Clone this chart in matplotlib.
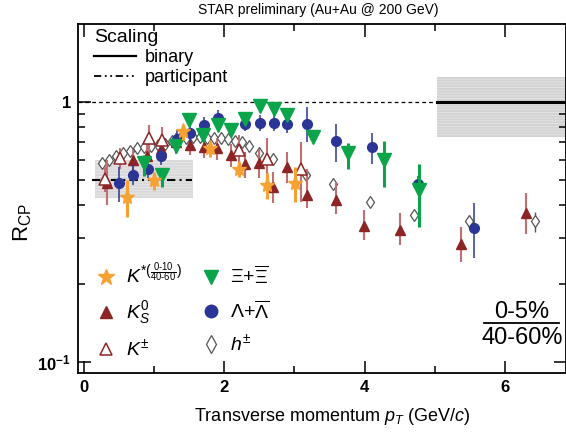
import numpy as np
import matplotlib
matplotlib.use('Agg')
import matplotlib.pyplot as plt
from matplotlib.lines import Line2D
from matplotlib.ticker import FixedLocator, NullFormatter

plt.rcParams['font.family'] = ['Liberation Sans', 'DejaVu Sans']
plt.rcParams['mathtext.fontset'] = 'custom'
plt.rcParams['mathtext.rm'] = 'Liberation Sans'
plt.rcParams['mathtext.it'] = 'Liberation Sans:italic'
plt.rcParams['mathtext.bf'] = 'Liberation Sans:bold'
plt.rcParams['hatch.linewidth'] = 0.6

# ---------------- data ----------------
h_x = [0.25, 0.35, 0.45, 0.55, 0.65, 0.75, 0.85, 0.95, 1.05, 1.15, 1.25, 1.35, 1.45,
       1.55, 1.65, 1.75, 1.85, 1.95, 2.05, 2.15, 2.25, 2.35, 2.50, 2.70, 3.17, 3.55,
       4.07, 4.71, 5.49, 6.43]
h_y = [0.58, 0.598, 0.62, 0.635, 0.65, 0.664, 0.673, 0.677, 0.683, 0.69, 0.71, 0.72,
       0.73, 0.735, 0.735, 0.73, 0.73, 0.725, 0.72, 0.71, 0.70, 0.68, 0.637, 0.606,
       0.526, 0.482, 0.414, 0.368, 0.347, 0.347]
h_err = [0.0, 0.0, 0.0, 0.0, 0.0, 0.0, 0.0, 0.0, 0.0, 0.0, 0.0, 0.0, 0.0, 0.0, 0.0,
         0.0, 0.0, 0.0, 0.0, 0.0, 0.0, 0.0, 0.03, 0.0, 0.0, 0.015, 0.015, 0.015, 0.02, 0.03]

kst_x = [0.61, 1.00, 1.41, 1.80, 2.21, 2.61, 3.01]
kst_y = [0.43, 0.50, 0.77, 0.665, 0.55, 0.48, 0.49]
kst_lo = [0.36, 0.46, 0.714, 0.616, 0.513, 0.422, 0.414]
kst_hi = [0.50, 0.54, 0.815, 0.71, 0.59, 0.534, 0.564]

k0_x = [0.33, 0.70, 0.90, 1.10, 1.31, 1.51, 1.71, 1.90, 2.10, 2.30, 2.50, 2.70, 2.90,
        3.18, 3.59, 3.99, 4.51, 5.38, 6.30]
k0_y = [0.49, 0.60, 0.62, 0.66, 0.70, 0.683, 0.67, 0.665, 0.625, 0.575, 0.58, 0.472,
        0.561, 0.44, 0.42, 0.334, 0.323, 0.285, 0.373]
k0_lo = [0.40, 0.524, 0.55, 0.60, 0.63, 0.625, 0.61, 0.60, 0.56, 0.51, 0.51, 0.41, 0.49,
         0.39, 0.37, 0.295, 0.282, 0.243, 0.311]
k0_hi = [0.60, 0.654, 0.70, 0.73, 0.76, 0.73, 0.74, 0.73, 0.69, 0.64, 0.66, 0.54, 0.64,
         0.55, 0.49, 0.384, 0.373, 0.33, 0.445]

kpm_x = [0.30, 0.51, 0.92, 1.11, 2.21, 2.61, 3.10]
kpm_y = [0.505, 0.61, 0.73, 0.715, 0.655, 0.605, 0.553]
kpm_lo = [0.45, 0.55, 0.60, 0.664, 0.557, 0.50, 0.414]
kpm_hi = [0.56, 0.666, 0.816, 0.804, 0.746, 0.725, 0.704]

lam_x = [0.50, 0.70, 0.91, 1.10, 1.32, 1.51, 1.71, 1.905, 2.30, 2.51, 2.71, 2.90, 3.18,
         3.59, 4.11, 4.755, 5.56]
lam_y = [0.486, 0.525, 0.551, 0.618, 0.722, 0.758, 0.816, 0.866, 0.821, 0.833, 0.833,
         0.821, 0.821, 0.708, 0.67, 0.484, 0.327]
lam_lo = [0.414, 0.48, 0.51, 0.573, 0.665, 0.704, 0.746, 0.792, 0.77, 0.77, 0.77, 0.76,
          0.704, 0.588, 0.578, 0.45, 0.251]
lam_hi = [0.564, 0.573, 0.59, 0.665, 0.78, 0.816, 0.878, 0.93, 0.87, 0.89, 0.89, 0.88,
          0.96, 0.823, 0.762, 0.52, 0.408]

xi_x = [0.855, 1.107, 1.31, 1.50, 1.70, 1.905, 2.10, 2.30, 2.51, 2.71, 2.90, 3.26, 3.77,
        4.27, 4.77]
xi_y = [0.583, 0.526, 0.676, 0.85, 0.746, 0.812, 0.783, 0.859, 0.965, 0.937, 0.891,
        0.736, 0.635, 0.598, 0.459]
xi_lo = [0.518, 0.472, 0.64, 0.81, 0.71, 0.77, 0.745, 0.82, 0.92, 0.89, 0.85, 0.70,
         0.553, 0.47, 0.331]
xi_hi = [0.625, 0.548, 0.71, 0.89, 0.78, 0.85, 0.82, 0.90, 1.01, 0.98, 0.93, 0.77,
         0.695, 0.71, 0.578]

part_band = [0.157, 1.553, 0.427, 0.598]   # x0, x1, ylo, yhi
part_level = 0.5
bin_band = [5.03, 7.0, 0.733, 1.248]
bin_level = 1.0

# ---------------- figure ----------------
fig = plt.figure(figsize=(5.66, 4.37), dpi=100)
ax = fig.add_axes([78 / 566, 64 / 437, (566 - 78) / 566, (373 - 24) / 437])
ax.set_yscale('log')
ax.set_xlim(-0.085, 6.87)
ax.set_ylim(0.0907, 1.995)

# bands
ax.fill_between([part_band[0], part_band[1]], part_band[2], part_band[3],
                facecolor='#d8d8d8', edgecolor='#eaeaea', hatch='------', lw=0, zorder=1)
ax.fill_between([bin_band[0], bin_band[1]], bin_band[2], bin_band[3],
                facecolor='#d2d2d2', edgecolor='#e6e6e6', hatch='------', lw=0, zorder=1)

# reference lines
ax.plot([0.11, 1.54], [part_level, part_level], color='k', lw=1.5,
        ls=(0, (4, 2, 1, 2)), zorder=2)
ax.plot([-0.085, bin_band[0]], [bin_level, bin_level], color='k', lw=0.9,
        ls=(0, (3, 2.5)), zorder=2)
ax.plot([bin_band[0], bin_band[1]], [bin_level, bin_level], color='k', lw=2.2, zorder=2)

def yerr(y, lo, hi):
    y = np.asarray(y)
    return [y - np.asarray(lo), np.asarray(hi) - y]

RED = '#8c2525'
RED_E = '#c07070'
ORG = '#f6a232'
GRN = '#0aa54a'
BLU = '#2b3596'
GRY = '#555555'

ax.errorbar(h_x, h_y, yerr=h_err, fmt='d', ms=6.5, mfc='white', mec=GRY, mew=0.9,
            ecolor=GRY, elinewidth=1, zorder=3)
ax.errorbar(k0_x, k0_y, yerr=yerr(k0_y, k0_lo, k0_hi), fmt='^', ms=6.5, mfc=RED,
            mec=RED, ecolor=RED_E, elinewidth=1.5, zorder=4)
ax.errorbar(kpm_x, kpm_y, yerr=yerr(kpm_y, kpm_lo, kpm_hi), fmt='^', ms=8, mfc='white',
            mec=RED, mew=1.1, ecolor=RED_E, elinewidth=1.5, zorder=4)
ax.errorbar(lam_x, lam_y, yerr=yerr(lam_y, lam_lo, lam_hi), fmt='o', ms=7, mfc=BLU,
            mec=BLU, ecolor=BLU, elinewidth=1.1, zorder=5)
ax.errorbar(xi_x, xi_y, yerr=yerr(xi_y, xi_lo, xi_hi), fmt='v', ms=9.5, mfc=GRN,
            mec=GRN, ecolor=GRN, elinewidth=2.2, zorder=6)
ax.errorbar(kst_x, kst_y, yerr=yerr(kst_y, kst_lo, kst_hi), fmt='*', ms=11, mfc=ORG,
            mec=ORG, ecolor=ORG, elinewidth=2.2, zorder=7)

# ticks
ax.xaxis.set_major_locator(FixedLocator([0, 2, 4, 6]))
ax.xaxis.set_minor_locator(FixedLocator([1, 3, 5]))
ax.set_xticklabels(['0', '2', '4', '6'], fontweight='bold', fontsize=12)
ax.yaxis.set_major_locator(FixedLocator([0.1, 1]))
ax.yaxis.set_minor_locator(FixedLocator([0.2, 0.3, 0.4, 0.5, 0.6, 0.7, 0.8, 0.9]))
ax.yaxis.set_minor_formatter(NullFormatter())
ax.set_yticklabels([r'$\mathbf{10^{-1}}$', '1'], fontweight='bold', fontsize=12)
ax.tick_params(which='both', direction='in', top=True, right=True, width=1.1)
ax.tick_params(which='major', length=9, pad=5)
ax.tick_params(which='minor', length=5)
for s in ax.spines.values():
    s.set_linewidth(1.3)

# labels
fig.text(0.562, 0.977, 'STAR preliminary (Au+Au @ 200 GeV)', ha='center', va='center',
         fontsize=10)
fig.text(0.587, 0.048, r'Transverse momentum $p_T$ (GeV/$c$)', ha='center', va='center',
         fontsize=13)
fig.text(0.04, 0.49, r'R$_{\rm CP}$', ha='center', va='center', rotation=90, fontsize=16)

# scaling legend
sh = [Line2D([], [], color='k', lw=1.6),
      Line2D([], [], color='k', lw=1.3, ls=(0, (4, 2, 1, 2, 1, 2)))]
leg1 = ax.legend(sh, ['binary', 'participant'], title='Scaling', loc='upper left',
                 bbox_to_anchor=(0.022, 1.0), frameon=False, fontsize=13,
                 title_fontsize=14, alignment='left', handlelength=2.3,
                 handletextpad=0.5, labelspacing=0.15, borderpad=0.3, borderaxespad=0)
ax.add_artist(leg1)

# particle legend
ph = [Line2D([], [], ls='', marker='*', ms=12, mfc=ORG, mec=ORG),
      Line2D([], [], ls='', marker='^', ms=9, mfc=RED, mec=RED),
      Line2D([], [], ls='', marker='^', ms=9, mfc='white', mec=RED, mew=1.1),
      Line2D([], [], ls='', marker='v', ms=10, mfc=GRN, mec=GRN),
      Line2D([], [], ls='', marker='o', ms=9, mfc=BLU, mec=BLU),
      Line2D([], [], ls='', marker='d', ms=9, mfc='white', mec=GRY, mew=0.9)]
pl = [r'$K^{*(\frac{0\text{-}10}{40\text{-}60})}$', r'$K^0_S$', r'$K^{\pm}$',
      r'$\mathrm{\Xi}$+$\overline{\mathrm{\Xi}}$',
      r'$\mathrm{\Lambda}$+$\overline{\mathrm{\Lambda}}$', r'$h^{\pm}$']
leg2 = ax.legend(ph, pl, loc='lower left', bbox_to_anchor=(0.01, 0.0), ncol=2,
                 frameon=False, fontsize=14, handlelength=1.0, handletextpad=0.5,
                 labelspacing=0.6, columnspacing=1.0, borderaxespad=0.3)

# centrality ratio
fig.text(522 / 566, 1 - 312 / 437, '0-5%', ha='center', va='center', fontsize=17)
fig.text(522 / 566, 1 - 338 / 437, '40-60%', ha='center', va='center', fontsize=17)
fig.add_artist(Line2D([484 / 566, 559 / 566], [1 - 323 / 437, 1 - 323 / 437],
                      color='k', lw=1.3, transform=fig.transFigure))

fig.savefig('out.png', dpi=100)
